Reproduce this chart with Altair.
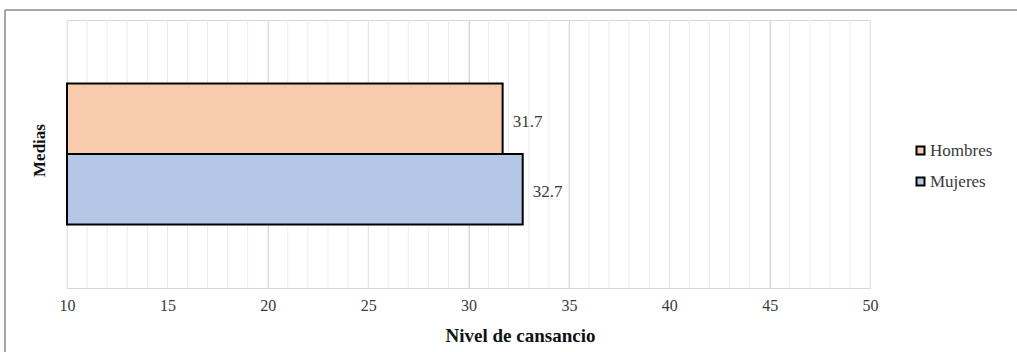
import altair as alt
import pandas as pd

# Mean fatigue level by sex
series = ["Hombres", "Mujeres"]
means = [31.7, 32.7]
colors = ["#f8cbad", "#b4c7e7"]

x_domain = [10, 50]
major_ticks = [10, 15, 20, 25, 30, 35, 40, 45, 50]
minor_ticks = list(range(10, 51))

FONT = "'Liberation Serif', 'Times New Roman', serif"
TEXT = "#3a3a3a"

bars_df = pd.DataFrame({"grupo": series, "media": means,
                        "etiqueta": [f"{v:.1f}" for v in means]})
minor_df = pd.DataFrame({"v": minor_ticks})

x_scale = alt.Scale(domain=x_domain, nice=False, zero=False)
y_scale = alt.Scale(domain=series, paddingInner=0, paddingOuter=0.9)

x_axis = alt.Axis(
    values=major_ticks,
    title="Nivel de cansancio",
    titleFont=FONT,
    titleFontSize=19,
    titleFontWeight="bold",
    titleColor="#111111",
    titleX=453,
    titleY=53,
    titleAlign="center",
    titleBaseline="alphabetic",
    labelFont=FONT,
    labelFontSize=16,
    labelColor=TEXT,
    labelPadding=9,
    labelFlush=False,
    ticks=False,
    domain=False,
    grid=True,
    gridColor="#d6d6d6",
    gridWidth=1,
)

y_axis = alt.Axis(
    title="Medias",
    titleFont=FONT,
    titleFontSize=17,
    titleFontWeight="bold",
    titleColor="#111111",
    titleY=130,
    titlePadding=19,
    labels=False,
    ticks=False,
    domain=False,
    grid=False,
)

minor_grid = alt.Chart(minor_df).mark_rule(color="#ececec", strokeWidth=1).encode(
    x=alt.X("v:Q", scale=x_scale, axis=x_axis)
)

bars = alt.Chart(bars_df).mark_bar(stroke="black", strokeWidth=2).encode(
    x=alt.X("media:Q", scale=x_scale, axis=x_axis),
    x2=alt.datum(10),
    y=alt.Y("grupo:N", scale=y_scale, axis=y_axis),
    color=alt.Color(
        "grupo:N",
        scale=alt.Scale(domain=series, range=colors),
        legend=alt.Legend(
            title=None,
            orient="none",
            legendX=845,
            legendY=122,
            symbolType="square",
            symbolSize=64,
            symbolStrokeColor="black",
            symbolStrokeWidth=2,
            symbolOpacity=1,
            labelFont=FONT,
            labelFontSize=17,
            labelColor=TEXT,
            labelOffset=1,
            rowPadding=13,
        ),
    ),
)

labels = alt.Chart(bars_df).mark_text(
    align="left", baseline="middle", dx=10, dy=3,
    font=FONT, fontSize=17, color=TEXT
).encode(
    x=alt.X("media:Q", scale=x_scale, axis=x_axis),
    y=alt.Y("grupo:N", scale=y_scale, axis=y_axis),
    text="etiqueta:N",
)

# outer frame of the figure (top and left edges)
frame_top = alt.Chart(bars_df).mark_rule(color="#a6a6a6", strokeWidth=2).encode(
    x=alt.value(-62), x2=alt.value(960), y=alt.value(-10)
)
frame_left = alt.Chart(bars_df).mark_rule(color="#a6a6a6", strokeWidth=2).encode(
    x=alt.value(-62), y=alt.value(-10), y2=alt.value(340)
)

chart = (
    alt.layer(minor_grid, bars, labels, frame_top, frame_left)
    .properties(
        width=803,
        height=268,
        autosize=alt.AutoSizeParams(type="none"),
        padding={"left": 67, "top": 20, "right": 147, "bottom": 64},
        background="white",
    )
    .configure_view(stroke="#d6d6d6", strokeWidth=1)
)

chart.save("out.html", embed_options={"renderer": "svg", "actions": False})
